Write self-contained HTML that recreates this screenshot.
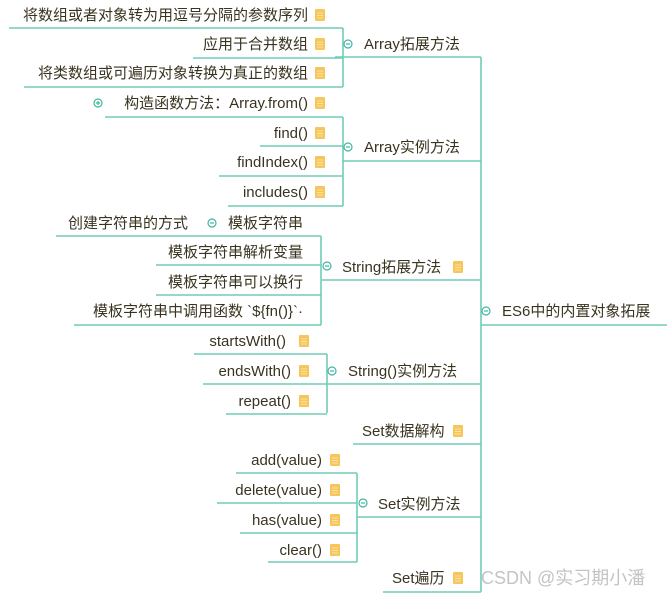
<!DOCTYPE html>
<html><head><meta charset="utf-8"><style>
html,body{margin:0;padding:0;background:#fff;}
svg{display:block;}
text{font-family:"Liberation Sans","Noto Sans CJK SC",sans-serif;font-size:15px;fill:#3a3320;}
</style></head><body>
<svg width="667" height="596" viewBox="0 0 667 596" xmlns="http://www.w3.org/2000/svg">
<defs>
<g id="ic"><rect x="0" y="0" width="10" height="12" rx="1" fill="#f7c65a"/><path d="M2 4h6M2 6.5h6M2 9h6" stroke="#fbe3a6" stroke-width="1"/></g>
<g id="cm"><circle r="4" fill="#fff" stroke="#3fb7a1" stroke-width="1.2"/><path d="M-2 0h4" stroke="#3fb7a1" stroke-width="1.2"/></g>
<g id="cp"><circle r="4" fill="#fff" stroke="#3fb7a1" stroke-width="1.2"/><path d="M-2 0h4M0 -2v4" stroke="#3fb7a1" stroke-width="1.2"/></g>
</defs>
<g fill="none" stroke="#70cbb8" stroke-width="1.6">
<path d="M481 57V592"/>
<path d="M481 325H667"/>
<path d="M335 57H481"/><path d="M343 28V87"/>
<path d="M9 28H343"/><path d="M193 58H343"/><path d="M24 87H343"/>
<path d="M343 161H481"/><path d="M343 117V206"/>
<path d="M105 117H343"/><path d="M260 146H343"/><path d="M219 176H343"/><path d="M228 206H343"/>
<path d="M322 280H481"/><path d="M321 236V325"/>
<path d="M56 236H321"/><path d="M156 265H321"/><path d="M156 295H321"/><path d="M74 325H321"/>
<path d="M203 384H481"/><path d="M327 354V413"/>
<path d="M194 354H327"/><path d="M226 414H327"/>
<path d="M353 444H481"/>
<path d="M357 517H481"/><path d="M357 473V562"/>
<path d="M236 473H357"/><path d="M217 503H357"/><path d="M240 533H357"/><path d="M268 562H357"/>
<path d="M383 592H481"/>
</g>
<use href="#cm" x="486" y="311"/>
<use href="#cm" x="348" y="44"/>
<use href="#cm" x="348" y="147"/>
<use href="#cp" x="98" y="103"/>
<use href="#cm" x="327" y="266"/>
<use href="#cm" x="212" y="223"/>
<use href="#cm" x="332" y="371"/>
<use href="#cm" x="363" y="503"/>
<text x="502" y="316">ES6中的内置对象拓展</text>
<text x="364" y="49">Array拓展方法</text>
<text x="364" y="152">Array实例方法</text>
<text x="342" y="272">String拓展方法</text>
<text x="348" y="376">String()实例方法</text>
<text x="362" y="436">Set数据解构</text>
<text x="378" y="509">Set实例方法</text>
<text x="392" y="583">Set遍历</text>
<g text-anchor="end">
<text x="308" y="20">将数组或者对象转为用逗号分隔的参数序列</text>
<text x="308" y="49">应用于合并数组</text>
<text x="308" y="78">将类数组或可遍历对象转换为真正的数组</text>
<text x="308" y="108">构造函数方法：Array.from()</text>
<text x="308" y="138">find()</text>
<text x="308" y="167">findIndex()</text>
<text x="308" y="197">includes()</text>
<text x="188" y="228">创建字符串的方式</text>
<text x="303" y="228">模板字符串</text>
<text x="303" y="257">模板字符串解析变量</text>
<text x="303" y="287">模板字符串可以换行</text>
<text x="303" y="316">模板字符串中调用函数 `${fn()}`·</text>
<text x="286" y="346">startsWith()</text>
<text x="291" y="376">endsWith()</text>
<text x="291" y="406">repeat()</text>
<text x="322" y="465">add(value)</text>
<text x="322" y="495">delete(value)</text>
<text x="322" y="525">has(value)</text>
<text x="322" y="555">clear()</text>
</g>
<use href="#ic" x="315" y="9"/>
<use href="#ic" x="315" y="38"/>
<use href="#ic" x="315" y="67"/>
<use href="#ic" x="315" y="97"/>
<use href="#ic" x="315" y="127"/>
<use href="#ic" x="315" y="156"/>
<use href="#ic" x="315" y="186"/>
<use href="#ic" x="453" y="261"/>
<use href="#ic" x="299" y="335"/>
<use href="#ic" x="299" y="365"/>
<use href="#ic" x="299" y="395"/>
<use href="#ic" x="453" y="425"/>
<use href="#ic" x="330" y="454"/>
<use href="#ic" x="330" y="484"/>
<use href="#ic" x="330" y="514"/>
<use href="#ic" x="330" y="544"/>
<use href="#ic" x="453" y="572"/>
<text x="481" y="584" style="fill:#c4c4c4;font-size:18px">CSDN @实习期小潘</text>
</svg>
</body></html>
